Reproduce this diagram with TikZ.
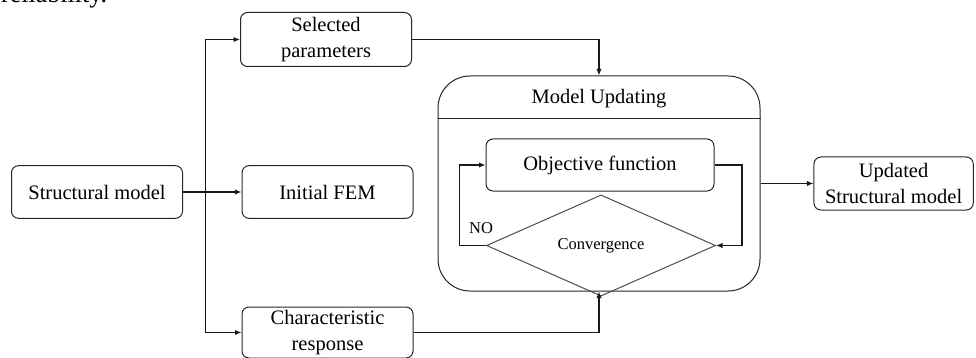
\documentclass[tikz,border=0pt]{standalone}
\usepackage{fontspec}
\setmainfont{Liberation Serif}
\usetikzlibrary{arrows.meta,shapes.geometric}

\begin{document}
\begin{tikzpicture}[x=1pt,y=-1pt,
  txt/.style={font=\fontsize{20.5}{26}\selectfont},
  smalltxt/.style={font=\fontsize{16.5}{19}\selectfont},
  box/.style={txt, draw=black!85, line width=1pt, rounded corners=7pt,
              align=center, inner sep=0pt},
  line/.style={line width=1.4pt, draw=black!90},
  conn/.style={line, -{Latex[length=6.5pt,width=5.5pt]}}]
\useasboundingbox (0,0) rectangle (976,358);

% last line of the running text above the figure
\node[anchor=base west, font=\fontsize{26}{30}\selectfont, inner sep=0pt] (rel) at (1,2.5) {reliability.};

% input boxes
\node[box, minimum width=171pt, minimum height=52.6pt] (sm)  at (97,192)    {Structural model};
\node[box, minimum width=171pt, minimum height=54pt]   (sp)  at (326,39.5)  {Selected\\parameters};
\node[box, minimum width=171pt, minimum height=52.6pt] (fem) at (327.5,192) {Initial FEM};
\node[box, minimum width=171pt, minimum height=51pt]   (cr)  at (327.5,332.5) {Characteristic\\response};

% model updating block
\node[draw=black!85, line width=1pt, rounded corners=32pt,
      minimum width=322pt, minimum height=215pt, inner sep=0pt] (mu) at (599,183.5) {};
\coordinate (sepy) at (0,118.3);
\draw[draw=black!85, line width=1pt] (mu.west |- sepy) -- (mu.east |- sepy);
\node[txt, anchor=base, inner sep=0pt] (mut) at (599,104) {Model Updating};

\node[box, minimum width=228pt, minimum height=52pt] (obj) at (600,165) {Objective function};
\node[draw=black!70, line width=1pt, diamond, minimum width=229pt, minimum height=70pt,
      inner sep=0pt, smalltxt] (conv) at (601,245.5) {\raisebox{-3pt}{Convergence}};
\node[smalltxt, inner sep=0pt] (no) at (481,228) {NO};

% output box
\node[box, minimum width=159.3pt, minimum height=53pt] (upd) at (893.6,183.5) {Updated\\Structural model};

% distribution bus
\coordinate (bt) at (205.5,39.5);
\coordinate (bb) at (205.5,332.5);
\draw[line] (bt) -- (bb);
\draw[conn] (sm.east) -- (fem.west);
\draw[conn] (bt) -- (sp.west);
\draw[conn] (bb) -- (cr.west);

% into and out of the updating block
\draw[conn] (sp.east) -| (mu.north);
\draw[conn] (cr.east) -| (mu.south);
\draw[conn] (mu.east) -- (upd.west);

% iteration loop
\draw[conn] (obj.east) -- ++(27.5,0) |- (conv.east);
\draw[conn] (conv.west) -- ++(-26.5,0) |- (obj.west);
\end{tikzpicture}
\end{document}
